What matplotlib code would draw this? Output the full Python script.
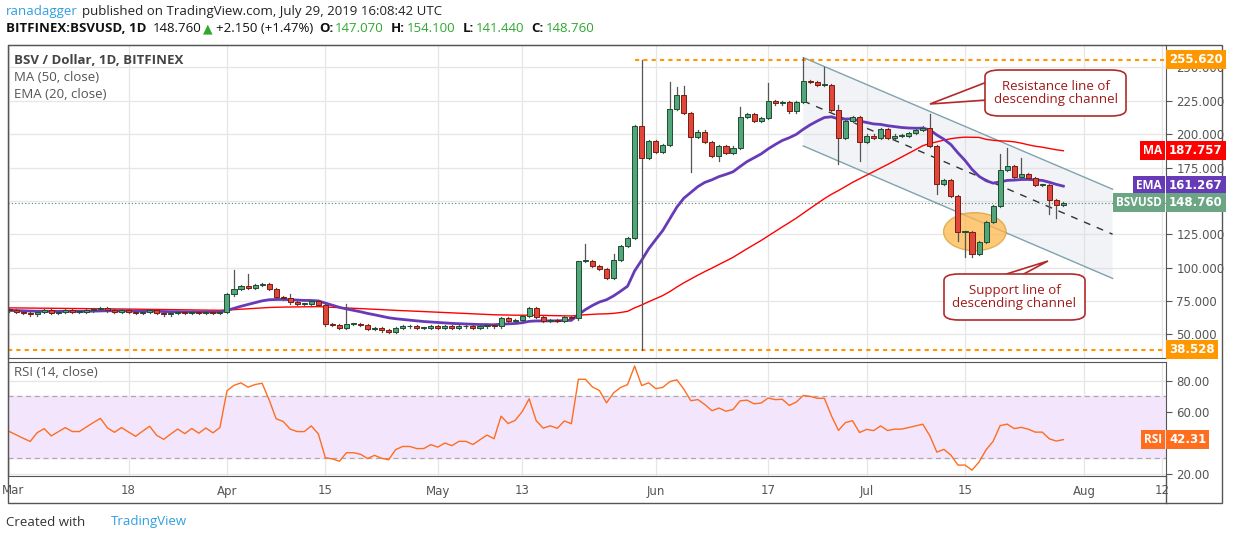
import matplotlib
matplotlib.use("Agg")
import matplotlib.pyplot as plt
import numpy as np
import pandas as pd
from matplotlib.patches import Rectangle, Ellipse, Polygon, FancyBboxPatch

# ---------------- data ----------------
closes = [68, 67, 66, 65, 67, 68, 66, 67, 68, 67, 67, 68, 69, 70, 68, 67, 68, 67, 66, 67,
          68, 66, 65, 66, 67, 66, 67, 66, 67, 66, 67,
          80, 84, 86, 85, 87, 88, 84, 78, 77, 74, 73, 73, 75, 72, 58, 57, 55, 58, 58,
          57, 54, 55, 53, 52, 55, 56, 56, 55, 55, 56, 55, 56, 55, 56, 56, 55, 56, 57, 56,
          62, 60, 61, 64, 70, 63, 60, 61, 60, 63, 62,
          105, 105, 101, 99, 92, 106, 116, 122, 206, 182, 195, 187, 192, 219, 229, 216,
          198, 202, 194, 184, 191, 186, 190, 213, 215, 210, 212, 225, 223, 224, 217, 224,
          240, 239, 237, 237, 218, 197, 210, 213, 194, 199, 197, 204, 197, 199, 199, 201,
          203, 205, 191, 163, 166, 154, 127, 127, 110, 119, 134, 146, 173, 176, 168, 170,
          167, 162, 162, 151, 147, 148.76]
first_open = 69
upper_wicks = {32: 98, 34: 95, 40: 80, 48: 73, 81: 105, 82: 118, 86: 110, 89: 207,
               90: 255.62, 94: 239, 95: 235, 96: 236, 104: 220, 108: 238, 113: 257,
               116: 250, 118: 222, 121: 214, 131: 215, 141: 185, 142: 190, 144: 182}
lower_wicks = {45: 56, 90: 38.53, 97: 172, 101: 180, 118: 178, 121: 180, 132: 155,
               135: 120, 136: 108, 137: 108, 148: 140, 149: 137}

price_ticks = [50, 75, 100, 125, 150, 175, 200, 225, 250]
price_tick_shown = [50, 75, 100, 125, 175, 200, 225, 250]
rsi_ticks = [20, 40, 60, 80]
rsi_tick_shown = [20, 60, 80]
xtick_days = [0, 17, 31, 45, 61, 73, 92, 108, 122, 136, 153, 164]
xtick_labels = ["Mar", "18", "Apr", "15", "May", "13", "Jun", "17", "Jul", "15", "Aug", "12"]
top_level, bottom_level = 255.62, 38.528
channel_days = [113, 157]
channel_upper = [257.4, 158.8]
channel_mid = [224.9, 125.1]
channel_lower = [191.2, 92.0]

# ---------------- derived ----------------
c = np.array(closes, float)
n = len(c)
o = np.concatenate([[first_open], c[:-1]])
o[-1] = 147.07
hi = np.maximum(o, c) + 0.8
lo = np.minimum(o, c) - 0.8
for k, v in upper_wicks.items():
    hi[k] = v
for k, v in lower_wicks.items():
    lo[k] = v
s = pd.Series(c)
prehist = pd.Series([70.0] * 50)
ma = pd.concat([prehist, s]).rolling(50).mean().iloc[50:].values
ema = pd.concat([pd.Series([68.0] * 20), s]).ewm(span=20, adjust=False).mean().iloc[20:].values
au, ad = 0.8, 0.85
rsi = np.zeros(n)
for i in range(n):
    ch = c[i] - (c[i-1] if i else 68.5)
    au = (au * 13 + max(ch, 0)) / 14
    ad = (ad * 13 + max(-ch, 0)) / 14
    rsi[i] = 100 - 100 / (1 + au / ad)
x = np.arange(n)

W, H = 1234, 540
fig = plt.figure(figsize=(W/100, H/100), dpi=100)
plt.rcParams['font.family'] = ['DejaVu Sans']
HF = ['Open Sans', 'DejaVu Sans']

def fr(x0, y0, x1, y1):
    return [x0/W, 1 - y1/H, (x1-x0)/W, (y1-y0)/H]

ax = fig.add_axes(fr(8, 45, 1166, 358))
ar = fig.add_axes(fr(8, 362, 1166, 476), sharex=ax)
xmin, xmax = -0.15, 164.6
ax.set_xlim(xmin, xmax)
ax.set_ylim(32.4, 266.8)
ar.set_ylim(18.7, 92)

grid_c = "#e6e6e6"
for a in (ax, ar):
    for xd in xtick_days:
        a.axvline(xd, color=grid_c, lw=0.9, zorder=0)
    for sp in a.spines.values():
        sp.set_color("#555555")
    a.tick_params(left=False, bottom=False, labelleft=False, labelbottom=False,
                  right=True, labelright=True, direction="out", length=4, color="#555555",
                  labelsize=8.5, labelcolor="#555555")
for p in price_ticks:
    ax.axhline(p, color=grid_c, lw=0.9, zorder=0)
for r in rsi_ticks:
    ar.axhline(r, color=grid_c, lw=0.9, zorder=0)
ax.set_yticks(price_tick_shown)
ax.set_yticklabels([f"{p:.3f}" for p in price_tick_shown])
ar.set_yticks(rsi_tick_shown)
ar.set_yticklabels([f"{r:.2f}" for r in rsi_tick_shown])

poly = Polygon([[channel_days[0], channel_upper[0]], [channel_days[1], channel_upper[1]],
                [channel_days[1], channel_lower[1]], [channel_days[0], channel_lower[0]]],
               closed=True, facecolor="#d8dde6", alpha=0.35, edgecolor="none", zorder=1)
ax.add_patch(poly)
ax.plot(channel_days, channel_upper, color="#7fa3ad", lw=1, zorder=2)
ax.plot(channel_days, channel_lower, color="#7fa3ad", lw=1, zorder=2)
ax.plot(channel_days, channel_mid, color="#333333", lw=1, ls=(0, (5, 5)), zorder=2)

ax.plot([89, xmax], [top_level, top_level], color="#ff9800", lw=1.5, ls=(0, (2, 2)), zorder=2)
ax.axhline(bottom_level, color="#ff9800", lw=1.5, ls=(0, (2, 2)), zorder=2)
ax.axhline(c[-1], color="#4c8a68", lw=0.8, ls=(0, (1, 2)), zorder=2)

ax.add_patch(Ellipse((137.4, 127), 8.9, 28.5, facecolor="#ffb74d", alpha=0.75,
                     edgecolor="#d9a030", lw=1, zorder=2))

ax.plot(x, ma, color="#ff0000", lw=1, zorder=3)
ax.plot(x, ema, color="#673ab7", lw=2, zorder=3)

green, red = "#53a67a", "#e0463a"
for i in range(n):
    col = green if c[i] >= o[i] else red
    ax.plot([i, i], [lo[i], hi[i]], color="#555555", lw=0.9, zorder=4)
    b0 = min(o[i], c[i]); bh = max(abs(c[i] - o[i]), 0.6)
    ax.add_patch(Rectangle((i - 0.36, b0), 0.72, bh, facecolor=col,
                           edgecolor="#1e4d33" if col == green else "#7a1c12", lw=0.7, zorder=5))

def callout(bx0, by0, bx1, by1, tip, base, text):
    bb = FancyBboxPatch((bx0/W, 1 - by1/H), (bx1-bx0)/W, (by1-by0)/H,
                        boxstyle="round,pad=0,rounding_size=0.012", transform=fig.transFigure,
                        facecolor="white", edgecolor="#b22a2a", lw=1.2, zorder=10)
    fig.patches.append(bb)
    tri = Polygon([(tip[0]/W, 1-tip[1]/H), (base[0][0]/W, 1-base[0][1]/H), (base[1][0]/W, 1-base[1][1]/H)],
                  closed=True, transform=fig.transFigure, facecolor="white", edgecolor="#b22a2a",
                  lw=1.2, zorder=9)
    fig.patches.append(tri)
    fig.text((bx0+bx1)/2/W, 1-(by0+by1)/2/H, text, color="#a01818", fontsize=9.5,
             ha="center", va="center", linespacing=1.0, zorder=11, family=HF)

callout(985, 70, 1126, 116, (930, 104), [(987, 82), (987, 100)], "Resistance line of\ndescending channel")
callout(944, 274, 1085, 320, (1048, 261), [(1000, 276), (1020, 276)], "Support line of\ndescending channel")

ar.axhspan(30, 70, color="#f3e5fc", zorder=0)
ar.axhline(70, color="#aaaaaa", lw=0.9, ls=(0, (4, 3)), zorder=1)
ar.axhline(30, color="#aaaaaa", lw=0.9, ls=(0, (4, 3)), zorder=1)
ar.plot(x, rsi, color="#ff6d1f", lw=1, zorder=3)

for xd, lab in zip(xtick_days, xtick_labels):
    px = 8 + (xd - xmin) / (xmax - xmin) * 1158
    if xd == 0:
        fig.text(2/W, 1-491/H, lab, ha="left", va="center", fontsize=8.5, color="#555555")
    else:
        fig.text(px/W, 1-491/H, lab, ha="center", va="center", fontsize=8.5, color="#555555")

def rlabel(val, text, color, axis, name=None):
    yp = axis.transData.transform((0, val))[1]
    yf = yp / fig.dpi / (H/100)
    fig.text(1169/W, yf, text, ha="left", va="center", fontsize=8.5, color="white",
             fontweight="bold", bbox=dict(boxstyle="square,pad=0.25", fc=color, ec="none"))
    if name:
        fig.text(1162/W, yf, name, ha="right", va="center", fontsize=8.5, color="white",
                 fontweight="bold", family=HF,
                 bbox=dict(boxstyle="square,pad=0.25", fc=color, ec="none"))

rlabel(top_level, "255.620", "#ff9800", ax)
rlabel(bottom_level, "38.528", "#ff9800", ax)
rlabel(187.757, "187.757", "#ff0000", ax, "MA")
rlabel(161.267, "161.267", "#673ab7", ax, "EMA")
rlabel(148.760, "148.760", "#6ba583", ax, "BSVUSD")
rlabel(42.31, "42.31", "#ff6d1f", ar, "RSI")

fig.patches.append(Rectangle((8/W, 1-503/H), 1214/W, 458/H, transform=fig.transFigure,
                             fill=False, edgecolor="#555555", lw=1))
fig.lines.append(plt.Line2D([1166/W, 1166/W], [1-503/H, 1-476/H], transform=fig.transFigure,
                            color="#555555", lw=1))

renderer = fig.canvas.get_renderer()

def t(px, py, s, **kw):
    kw.setdefault("fontsize", 9.5)
    kw.setdefault("family", HF)
    tx = fig.text(px/W, 1-py/H, s, va="center", **kw)
    bb = tx.get_window_extent(renderer=renderer)
    return bb.x1 * 100 / fig.dpi

def seq(px, py, parts):
    for s, gap, kw in parts:
        px = t(px, py, s, **kw) + gap
    return px

end = t(6, 12, "ranadagger", color="#2f9fe0")
t(end + 4, 12, "published on TradingView.com, July 29, 2019 16:08:42 UTC", color="#222222")
seq(6, 29, [
    ("BITFINEX:BSVUSD, 1D", 6, dict(fontweight="bold", color="#111111")),
    ("148.760", 2, dict(color="#111111")),
    ("\u25B2", 3, dict(color="#2ea82e", family=['DejaVu Sans'], fontsize=9)),
    ("+2.150 (+1.47%)", 6, dict(color="#111111")),
    ("O:", 2, dict(fontweight="bold", color="#111111")),
    ("147.070", 7, dict(color="#2ea82e")),
    ("H:", 2, dict(fontweight="bold", color="#111111")),
    ("154.100", 7, dict(color="#2ea82e")),
    ("L:", 2, dict(fontweight="bold", color="#111111")),
    ("141.440", 7, dict(color="#2ea82e")),
    ("C:", 2, dict(fontweight="bold", color="#111111")),
    ("148.760", 0, dict(color="#2ea82e")),
])
t(14, 60, "BSV / Dollar, 1D, BITFINEX", color="#444444", fontweight="bold")
t(14, 78, "MA (50, close)", color="#555555")
t(14, 95, "EMA (20, close)", color="#555555")
t(14, 372, "RSI (14, close)", color="#555555")
end = t(6, 522, "Created with", color="#333333")
t(end + 26, 522, "TradingView", color="#2f9fe0")

fig.savefig("out.png", dpi=100, facecolor="white")
